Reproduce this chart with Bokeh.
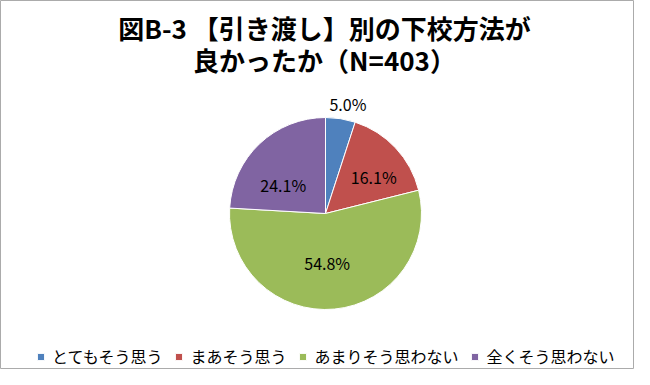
import numpy as np
from bokeh.plotting import figure
from bokeh.models import ColumnDataSource, Range1d, Legend, LegendItem
from bokeh.core.properties import value
from bokeh.embed import file_html
from bokeh.resources import INLINE

# ---- data ----
title_lines = ["図B-3 【引き渡し】別の下校方法が", "良かったか（N=403）"]
categories = ["とてもそう思う", "まあそう思う", "あまりそう思わない", "全くそう思わない"]
percents = [5.0, 16.1, 54.8, 24.1]
colors = ["#4F81BD", "#C0504D", "#9BBB59", "#8064A2"]

# ---- style ----
FONT = "Noto Sans CJK JP"
W, H = 634, 369
CX, CY, R = 325, 156, 96
label_radial = [1.16, 0.63, 0.52, 0.55]
label_xoff = [5, 4, -3, -6]
label_yoff = [0, 5, 0, 10]

vals = np.array(percents, dtype=float)
frac = vals / vals.sum()
cum = np.cumsum(frac)
prev = np.concatenate([[0.0], cum[:-1]])
start = np.pi / 2 - 2 * np.pi * prev
end = np.pi / 2 - 2 * np.pi * cum
mid = (start + end) / 2
lx = CX + np.array(label_radial) * R * np.cos(mid)
ly = CY + np.array(label_radial) * R * np.sin(mid)

src = ColumnDataSource(dict(
    start=start, end=end, color=colors, cat=categories,
    lx=lx, ly=ly, xo=label_xoff, yo=label_yoff,
    lab=[f"{v:.1f}%" for v in percents],
))

p = figure(width=W, height=H, x_range=Range1d(0, W), y_range=Range1d(0, H),
           output_backend="svg", toolbar_location=None, min_border=0,
           x_axis_type=None, y_axis_type=None)
p.grid.visible = False
p.outline_line_color = "#ABABAB"
p.outline_line_width = 1
p.background_fill_color = "white"
p.border_fill_color = "white"

r = p.wedge(x=CX, y=CY, radius=R, radius_units="screen",
            start_angle="start", end_angle="end", direction="clock",
            fill_color="color", line_color="white", line_width=1, source=src)

p.text(x="lx", y="ly", text="lab", source=src, x_offset="xo", y_offset="yo",
       text_font=value(FONT), text_font_size="16px", text_color="black",
       text_align="center", text_baseline="middle")

tsrc = ColumnDataSource(dict(x=[324, 324], y=[342, 310], t=title_lines))
p.text(x="x", y="y", text="t", source=tsrc,
       text_font=value(FONT), text_font_size="26px", text_font_style="bold",
       text_color="black", text_align="center", text_baseline="middle")

legend = Legend(
    items=[LegendItem(label=c, renderers=[r], index=i) for i, c in enumerate(categories)],
    orientation="horizontal", location=(36, 1), margin=0, padding=0,
    glyph_width=9, glyph_height=9, label_standoff=7, spacing=12,
    label_height=16,
    border_line_alpha=0, background_fill_alpha=0,
    label_text_font=FONT, label_text_font_size="16px", label_text_color="black",
)
p.add_layout(legend, "center")

open("out.html", "w").write(file_html(p, INLINE))
